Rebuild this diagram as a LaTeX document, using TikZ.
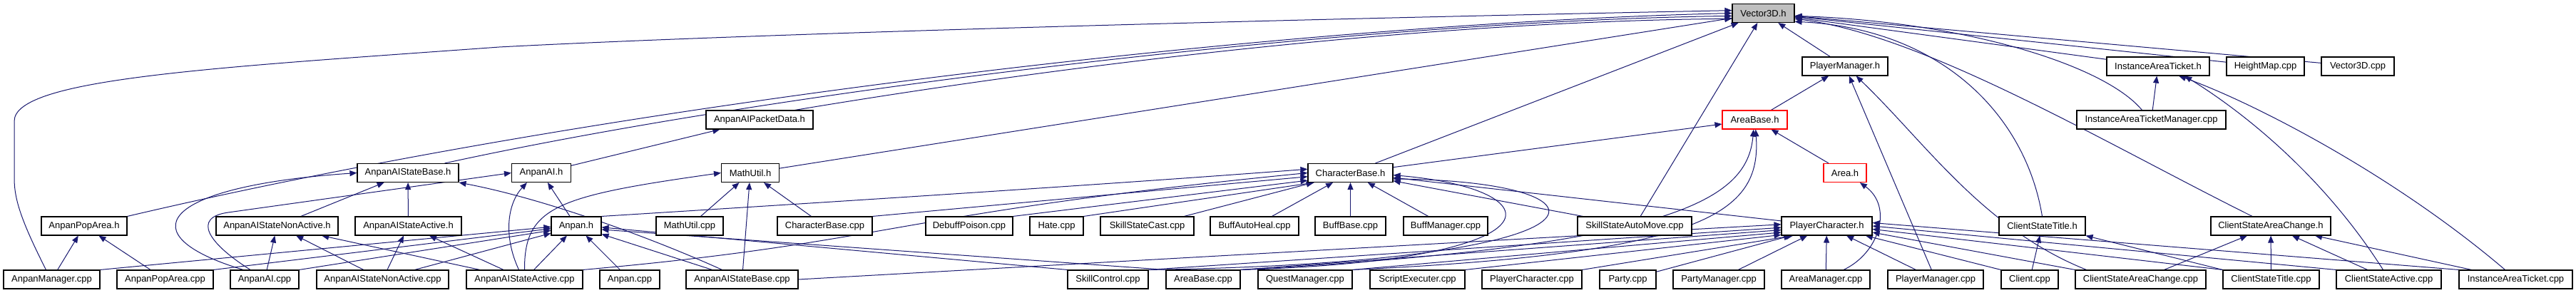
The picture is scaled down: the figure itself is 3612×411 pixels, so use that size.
\documentclass[tikz,border=0pt]{standalone}
\usepackage{fontspec}
\setmainfont{Liberation Sans}
\usepackage{tikz}
\usetikzlibrary{arrows.meta, backgrounds}
\definecolor{edgeblue}{RGB}{25,25,112}
\definecolor{rootgray}{RGB}{191,191,191}
\tikzset{
    filebox/.style={draw=black, fill=white, line width=1.1pt, minimum height=26pt, inner sep=0pt, font=\fontsize{13}{15}\selectfont},
    rootbox/.style={filebox, fill=rootgray},
    truncbox/.style={filebox, draw=red},
    incl/.style={draw=edgeblue, line width=1pt, -{Triangle[length=10pt, width=8pt]}}
}

\begin{document}
\begin{tikzpicture}[x=1pt, y=-1pt]

    % row heights (pixels from the top)
    \def\rZ{18.5}
    \def\rA{93}
    \def\rB{168}
    \def\rC{242.5}
    \def\rD{317}
    \def\rE{392}

    \useasboundingbox (0,0) rectangle (3612,411);

    % ---------------------------------------------------
    % Headers
    % ---------------------------------------------------
    \node[rootbox, minimum width=87pt] (vec) at (2472.5,\rZ) {Vector3D.h};

    \node[filebox, minimum width=120pt] (pmh) at (2587,\rA) {PlayerManager.h};
    \node[filebox, minimum width=144pt] (iath) at (3026,\rA) {InstanceAreaTicket.h};
    \node[filebox, minimum width=109pt] (hmap) at (3176.5,\rA) {HeightMap.cpp};
    \node[filebox, minimum width=102pt] (veccpp) at (3306,\rA) {Vector3D.cpp};

    \node[filebox, minimum width=150pt] (pkt) at (1065,\rB) {AnpanAIPacketData.h};
    \node[truncbox, minimum width=91pt] (abh) at (2460.5,\rB) {AreaBase.h};
    \node[filebox, minimum width=209pt] (iatm) at (3016.5,\rB) {InstanceAreaTicketManager.cpp};

    \node[filebox, minimum width=142pt] (aisb) at (572,\rC) {AnpanAIStateBase.h};
    \node[filebox, minimum width=83pt] (aih) at (759,\rC) {AnpanAI.h};
    \node[filebox, minimum width=81pt] (muh) at (1052,\rC) {MathUtil.h};
    \node[filebox, minimum width=119pt] (cbh) at (1893.5,\rC) {CharacterBase.h};
    \node[truncbox, minimum width=60pt] (areah) at (2587,\rC) {Area.h};

    \node[filebox, minimum width=120pt] (ppah) at (118,\rD) {AnpanPopArea.h};
    \node[filebox, minimum width=171pt] (aisnh) at (388.5,\rD) {AnpanAIStateNonActive.h};
    \node[filebox, minimum width=149pt] (aisah) at (572.5,\rD) {AnpanAIStateActive.h};
    \node[filebox, minimum width=70pt] (anh) at (808,\rD) {Anpan.h};
    \node[filebox, minimum width=94pt] (mucpp) at (967,\rD) {MathUtil.cpp};
    \node[filebox, minimum width=133pt] (cbcpp) at (1156.5,\rD) {CharacterBase.cpp};
    \node[filebox, minimum width=122pt] (debuff) at (1359,\rD) {DebuffPoison.cpp};
    \node[filebox, minimum width=75pt] (hate) at (1481.5,\rD) {Hate.cpp};
    \node[filebox, minimum width=131pt] (cast) at (1608.5,\rD) {SkillStateCast.cpp};
    \node[filebox, minimum width=124pt] (heal) at (1759,\rD) {BuffAutoHeal.cpp};
    \node[filebox, minimum width=99pt] (bbase) at (1893.5,\rD) {BuffBase.cpp};
    \node[filebox, minimum width=118pt] (bmgr) at (2027,\rD) {BuffManager.cpp};
    \node[filebox, minimum width=160pt] (automove) at (2292,\rD) {SkillStateAutoMove.cpp};
    \node[filebox, minimum width=127pt] (pch) at (2561.5,\rD) {PlayerCharacter.h};
    \node[filebox, minimum width=121pt] (csth) at (2863.5,\rD) {ClientStateTitle.h};
    \node[filebox, minimum width=168pt] (csach) at (3184,\rD) {ClientStateAreaChange.h};

    % ---------------------------------------------------
    % Sources
    % ---------------------------------------------------
    \node[filebox, minimum width=135pt] (amgr) at (72.5,\rE) {AnpanManager.cpp};
    \node[filebox, minimum width=135pt] (ppacpp) at (231.5,\rE) {AnpanPopArea.cpp};
    \node[filebox, minimum width=96pt] (aicpp) at (371,\rE) {AnpanAI.cpp};
    \node[filebox, minimum width=185pt] (aisncpp) at (536.5,\rE) {AnpanAIStateNonActive.cpp};
    \node[filebox, minimum width=163pt] (aisacpp) at (735.5,\rE) {AnpanAIStateActive.cpp};
    \node[filebox, minimum width=84pt] (ancpp) at (883,\rE) {Anpan.cpp};
    \node[filebox, minimum width=157pt] (aisbcpp) at (1040.5,\rE) {AnpanAIStateBase.cpp};
    \node[filebox, minimum width=113pt] (skctl) at (1553.5,\rE) {SkillControl.cpp};
    \node[filebox, minimum width=104pt] (abcpp) at (1687,\rE) {AreaBase.cpp};
    \node[filebox, minimum width=132pt] (quest) at (1830,\rE) {QuestManager.cpp};
    \node[filebox, minimum width=133pt] (script) at (1987.5,\rE) {ScriptExecuter.cpp};
    \node[filebox, minimum width=140pt] (pccpp) at (2148,\rE) {PlayerCharacter.cpp};
    \node[filebox, minimum width=79pt] (party) at (2282.5,\rE) {Party.cpp};
    \node[filebox, minimum width=128pt] (pmgr) at (2410,\rE) {PartyManager.cpp};
    \node[filebox, minimum width=124pt] (areamgr) at (2560,\rE) {AreaManager.cpp};
    \node[filebox, minimum width=134pt] (plmgr) at (2714,\rE) {PlayerManager.cpp};
    \node[filebox, minimum width=80pt] (client) at (2846,\rE) {Client.cpp};
    \node[filebox, minimum width=183pt] (csacpp) at (3001.5,\rE) {ClientStateAreaChange.cpp};
    \node[filebox, minimum width=135pt] (cstcpp) at (3184.5,\rE) {ClientStateTitle.cpp};
    \node[filebox, minimum width=147pt] (actcpp) at (3349.5,\rE) {ClientStateActive.cpp};
    \node[filebox, minimum width=159pt] (iatcpp) at (3527.5,\rE) {InstanceAreaTicket.cpp};

    \begin{scope}[on background layer]
        \fill[white] (0,0) rectangle (3612,411);

        % ---------------------------------------------------
        % Vector3D.h
        % ---------------------------------------------------
        \draw[incl] ([xshift=-8pt]amgr.north) .. controls (30,310) and (20,280) .. (20,250) -- (20,170)
            .. controls (20,110) and (300,95) .. (700,66) .. controls (1100,45) and (1900,25) .. (vec.175);
        \draw[incl] (ppah.north east) .. controls (878,139) and (1829,33) .. (vec.180);
        \draw[incl] ([xshift=-20pt]aisb.north east) .. controls (1100,125) and (1900,30) .. (vec.185);
        \draw[incl] ([xshift=-26pt]pkt.north east) .. controls (1500,90) and (2000,30) .. (vec.190);
        \draw[incl] (muh) -- (vec);
        \draw[incl] (cbh) -- (vec);
        \draw[incl] (automove) -- (vec);
        \draw[incl] (pmh) -- (vec);
        \draw[incl] (csth.north) .. controls (2840,160) and (2720,40) .. (vec.-15);
        \draw[incl] ([xshift=-26pt]csach.north) .. controls (2950,200) and (2700,50) .. (vec.-10);
        \draw[incl] (iath) -- (vec);
        \draw[incl] ([xshift=-13pt]iatm.north) .. controls (2950,90) and (2750,30) .. (vec.-5);
        \draw[incl] (hmap) -- (vec);
        \draw[incl] (veccpp) -- (vec);

        % ---------------------------------------------------
        % Anpan headers
        % ---------------------------------------------------
        \draw[incl] (amgr) -- (ppah);
        \draw[incl] (ppacpp) -- (ppah);

        \draw[incl] ([xshift=-30pt]aicpp.north) .. controls (180,330) and (220,262) .. (aisb.west);
        \draw[incl] (aisnh) -- (aisb);
        \draw[incl] (aisah) -- (aisb);
        \draw[incl] ([xshift=-28pt]aisbcpp.north) .. controls (910,332) and (760,278) .. (aisb.south east);

        \draw[incl] (anh) -- (aih);
        \draw[incl] ([xshift=-8pt]aisacpp.north) .. controls (705,330) and (712,285) .. (aih.-146);
        \draw[incl] ([xshift=-20pt]aicpp.north) .. controls (290,340) and (270,305) .. (320,298) -- (aih.west);
        \draw[incl] (aih) -- (pkt);

        \draw[incl] (aicpp) -- (aisnh);
        \draw[incl] (aisncpp) -- (aisnh);
        \draw[incl] (aisacpp) -- (aisnh);
        \draw[incl] (aisncpp) -- (aisah);
        \draw[incl] (aisacpp) -- (aisah);

        \draw[incl] (amgr.north east) -- (anh.182);
        \draw[incl] (ppacpp.north east) -- (anh.186);
        \draw[incl] (aicpp.north east) -- (anh.190);
        \draw[incl] ([xshift=45pt]aisncpp.north) -- (anh.196);
        \draw[incl] (aisacpp) -- (anh);
        \draw[incl] (ancpp) -- (anh);
        \draw[incl] (aisbcpp) -- (anh);
        \draw[incl] (skctl.north west) -- (anh.-3);
        \draw[incl] (abcpp.north west) -- (anh.-8);

        % MathUtil.h
        \draw[incl] (mucpp) -- (muh);
        \draw[incl] (aisbcpp) -- (muh);
        \draw[incl] (cbcpp) -- (muh);
        \draw[incl] (aisacpp.north) .. controls (735,290) and (780,275) .. (muh.west);

        % ---------------------------------------------------
        % CharacterBase.h and the area headers
        % ---------------------------------------------------
        \draw[incl] (anh.north east) .. controls (1300,275) and (1600,255) .. (cbh.175);
        \draw[incl] (aisacpp.north east) .. controls (1250,340) and (1250,300) .. (cbh.180);
        \draw[incl] (cbcpp.north east) -- (cbh.185);
        \draw[incl] (debuff.north east) -- (cbh.190);
        \draw[incl] (hate.north east) -- (cbh.195);
        \draw[incl] (cast) -- (cbh);
        \draw[incl] (heal) -- (cbh);
        \draw[incl] (bbase) -- (cbh);
        \draw[incl] (bmgr) -- (cbh);
        \draw[incl] (automove) -- (cbh);
        \draw[incl] (pch) -- (cbh);
        \draw[incl] (abcpp.north east) .. controls (2200,365) and (2180,265) .. (cbh.-3);
        \draw[incl] (skctl.north east) .. controls (2290,368) and (2280,255) .. (cbh.-8);

        \draw[incl] (cbh) -- (abh);
        \draw[incl] (areah) -- (abh);
        \draw[incl] (abcpp.north east) .. controls (2350,345) and (2450,280) .. (abh.-97);
        \draw[incl] (quest.north east) .. controls (2390,355) and (2470,300) .. (abh.-85);

        \draw[incl] (abh) -- (pmh);
        \draw[incl] (plmgr) -- (pmh);
        \draw[incl] ([xshift=-76pt]csacpp.north) .. controls (2780,320) and (2700,200) .. (pmh.-41);

        \draw[incl] ([xshift=25pt]areamgr.north) .. controls (2635,355) and (2655,290) .. (areah.-33);

        % ---------------------------------------------------
        % PlayerCharacter.h
        % ---------------------------------------------------
        \draw[incl] (aisbcpp.east) -- (pch.178);
        \draw[incl] (skctl.north east) -- (pch.182);
        \draw[incl] (abcpp.north east) -- (pch.185);
        \draw[incl] (quest.north east) -- (pch.188);
        \draw[incl] (script.north east) -- (pch.191);
        \draw[incl] (pccpp.north east) -- (pch.196);
        \draw[incl] (party) -- (pch);
        \draw[incl] (pmgr) -- (pch);
        \draw[incl] (areamgr) -- (pch);
        \draw[incl] (plmgr) -- (pch);
        \draw[incl] (client.north west) -- (pch.-14);
        \draw[incl] (csacpp.north west) -- (pch.-8);
        \draw[incl] (cstcpp.north west) -- (pch.-4);
        \draw[incl] (actcpp.north west) -- (pch.0);
        \draw[incl] (iatcpp.north west) -- (pch.4);

        % ---------------------------------------------------
        % Client states and tickets
        % ---------------------------------------------------
        \draw[incl] (client) -- (csth);
        \draw[incl] (cstcpp.north west) -- (csth.south east);

        \draw[incl] (csacpp) -- (csach);
        \draw[incl] (cstcpp) -- (csach);
        \draw[incl] (actcpp) -- (csach);
        \draw[incl] (iatcpp) -- (csach);

        \draw[incl] (iatm) -- (iath);
        \draw[incl] ([xshift=-8pt]actcpp.north) .. controls (3260,250) and (3150,160) .. (iath.-20);
        \draw[incl] ([xshift=-15pt]iatcpp.north) .. controls (3350,240) and (3150,140) .. (iath.-25);
    \end{scope}

\end{tikzpicture}
\end{document}
